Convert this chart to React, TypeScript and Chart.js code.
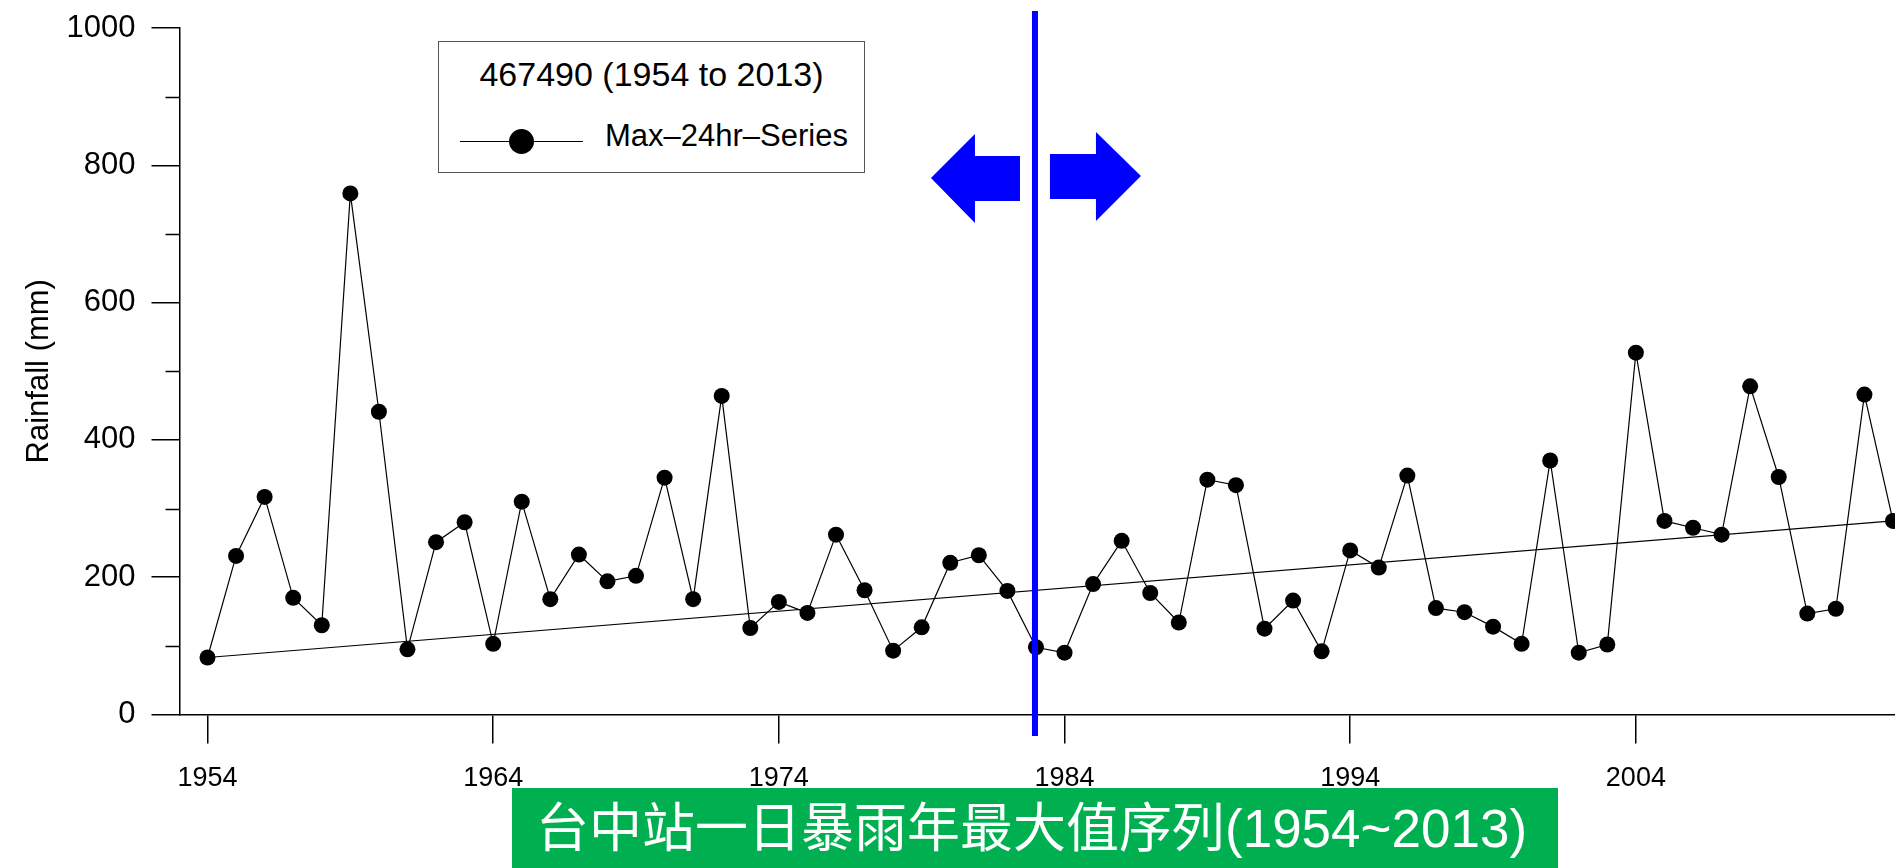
import React, { useEffect, useRef } from 'react';
import { Chart, registerables } from 'chart.js';

Chart.register(...registerables);

// ---- data ----
const YEARS = [
  1954, 1955, 1956, 1957, 1958, 1959, 1960, 1961, 1962, 1963,
  1964, 1965, 1966, 1967, 1968, 1969, 1970, 1971, 1972, 1973,
  1974, 1975, 1976, 1977, 1978, 1979, 1980, 1981, 1982, 1983,
  1984, 1985, 1986, 1987, 1988, 1989, 1990, 1991, 1992, 1993,
  1994, 1995, 1996, 1997, 1998, 1999, 2000, 2001, 2002, 2003,
  2004, 2005, 2006, 2007, 2008, 2009, 2010, 2011, 2012, 2013,
];
const MAX_24HR_RAINFALL = [
  83, 231, 317, 170, 130, 759, 441, 95, 251, 280,
  103, 310, 168, 233, 194, 202, 345, 168, 464, 126,
  164, 148, 262, 181, 93, 127, 221, 232, 180, 98,
  90, 190, 253, 177, 134, 342, 334, 125, 166, 92,
  239, 214, 348, 155, 149, 128, 103, 370, 90, 102,
  527, 282, 272, 262, 478, 346, 147, 154, 466, 282,
];
const X_TICK_YEARS = [1954, 1964, 1974, 1984, 1994, 2004];
const Y_MINOR_TICKS = [100, 300, 500, 700, 900];
const BREAK_YEAR = 1983;
const LEGEND_TITLE = '467490 (1954 to 2013)';
const SERIES_LABEL = 'Max–24hr–Series';
const Y_AXIS_TITLE = 'Rainfall (mm)';
const CHART_TITLE = '台中站一日暴雨年最大值序列(1954~2013)';

const FONT = '"Liberation Sans", Arial, sans-serif';

const overlayPlugin = {
  id: 'overlay',
  afterDatasetsDraw(chart: any) {
    const { ctx, chartArea, scales } = chart;
    ctx.save();
    // minor y ticks
    ctx.strokeStyle = '#000';
    ctx.lineWidth = 1.5;
    for (const v of Y_MINOR_TICKS) {
      const y = Math.round(scales.y.getPixelForValue(v)) + 0.5;
      ctx.beginPath();
      ctx.moveTo(chartArea.left - 14, y);
      ctx.lineTo(chartArea.left, y);
      ctx.stroke();
    }
    // blue break line
    const bx = scales.x.getPixelForValue(BREAK_YEAR) - 1;
    ctx.fillStyle = '#0000ff';
    ctx.fillRect(bx - 3, 11, 6, 725);
    // left arrow
    ctx.beginPath();
    ctx.moveTo(bx - 104, 178);
    ctx.lineTo(bx - 60, 134);
    ctx.lineTo(bx - 60, 156);
    ctx.lineTo(bx - 15, 156);
    ctx.lineTo(bx - 15, 201);
    ctx.lineTo(bx - 60, 201);
    ctx.lineTo(bx - 60, 223);
    ctx.closePath();
    ctx.fill();
    // right arrow
    ctx.beginPath();
    ctx.moveTo(bx + 15, 154);
    ctx.lineTo(bx + 61, 154);
    ctx.lineTo(bx + 61, 132);
    ctx.lineTo(bx + 106, 176);
    ctx.lineTo(bx + 61, 221);
    ctx.lineTo(bx + 61, 199);
    ctx.lineTo(bx + 15, 199);
    ctx.closePath();
    ctx.fill();
    ctx.restore();
  },
};

export default function App() {
  const canvasRef = useRef<HTMLCanvasElement | null>(null);

  useEffect(() => {
    const canvas = canvasRef.current;
    if (!canvas) return;
    const n = YEARS.length;
    const series = YEARS.map((yr, i) => ({ x: yr, y: MAX_24HR_RAINFALL[i] }));
    const trend = [
      { x: YEARS[0], y: MAX_24HR_RAINFALL[0] },
      { x: YEARS[n - 1], y: MAX_24HR_RAINFALL[n - 1] },
    ];
    const chart = new Chart(canvas, {
      type: 'line',
      data: {
        datasets: [
          {
            label: 'Trend',
            data: trend,
            borderColor: '#000',
            borderWidth: 1.2,
            pointRadius: 0,
            tension: 0,
          },
          {
            label: SERIES_LABEL,
            data: series,
            borderColor: '#000',
            borderWidth: 1.2,
            pointRadius: 8,
            pointHoverRadius: 8,
            pointBackgroundColor: '#000',
            pointBorderWidth: 0,
            tension: 0,
          },
        ],
      },
      options: {
        animation: false,
        responsive: false,
        devicePixelRatio: 1,
        layout: { padding: { top: 28, left: 0, right: 0, bottom: 0 }, autoPadding: false },
        plugins: {
          legend: { display: false },
          tooltip: { enabled: false },
          title: { display: false },
        },
        scales: {
          x: {
            type: 'linear',
            min: 1953.02,
            max: 2013.07,
            afterBuildTicks: (scale: any) => {
              scale.ticks = X_TICK_YEARS.map((v) => ({ value: v }));
            },
            afterFit: (scale: any) => {
              scale.height = 153.5;
              scale.paddingLeft = 0;
              scale.paddingRight = 0;
            },
            grid: {
              display: true,
              drawOnChartArea: false,
              drawTicks: true,
              tickLength: 29,
              color: '#000',
              lineWidth: 1.5,
            },
            border: { display: true, color: '#000', width: 1.5 },
            ticks: {
              color: '#000',
              padding: 19,
              maxRotation: 0,
              autoSkip: false,
              font: { family: FONT, size: 27 },
              callback: (v: any) => String(v),
            },
          },
          y: {
            type: 'linear',
            min: 0,
            max: 1000,
            afterFit: (scale: any) => {
              scale.width = 179.5;
              scale.paddingTop = 0;
              scale.paddingBottom = 0;
            },
            grid: {
              display: true,
              drawOnChartArea: false,
              drawTicks: true,
              tickLength: 28,
              color: '#000',
              lineWidth: 1.5,
            },
            border: { display: true, color: '#000', width: 1.5 },
            ticks: {
              stepSize: 200,
              color: '#000',
              padding: 16,
              font: { family: FONT, size: 31 },
              callback: (v: any) => String(v),
            },
            title: {
              display: true,
              text: Y_AXIS_TITLE,
              color: '#000',
              font: { family: FONT, size: 31 },
              padding: { top: 21, bottom: 0 },
            },
          },
        },
      },
      plugins: [overlayPlugin],
    });
    return () => chart.destroy();
  }, []);

  return (
    <div
      style={{
        position: 'fixed',
        left: 0,
        top: 0,
        width: 1895,
        height: 868,
        background: '#fff',
        overflow: 'hidden',
      }}
    >
      <canvas
        ref={canvasRef}
        width={1895}
        height={868}
        style={{ position: 'absolute', left: 0, top: 0, width: 1895, height: 868 }}
      />
      <div
        style={{
          position: 'absolute',
          left: 438,
          top: 41,
          width: 427,
          height: 132,
          boxSizing: 'border-box',
          border: '1.5px solid #555',
          background: '#fff',
          fontFamily: FONT,
          color: '#000',
        }}
      >
        <div
          style={{
            position: 'absolute',
            left: 0,
            right: 0,
            top: 12,
            textAlign: 'center',
            fontSize: 34,
            lineHeight: '40px',
            whiteSpace: 'nowrap',
          }}
        >
          {LEGEND_TITLE}
        </div>
        <div
          style={{
            position: 'absolute',
            left: 21,
            top: 99,
            width: 123,
            height: 0,
            borderTop: '1.5px solid #000',
          }}
        />
        <div
          style={{
            position: 'absolute',
            left: 70,
            top: 87,
            width: 25,
            height: 25,
            borderRadius: '50%',
            background: '#000',
          }}
        />
        <div
          style={{
            position: 'absolute',
            left: 166,
            top: 76,
            fontSize: 31,
            lineHeight: '36px',
            whiteSpace: 'nowrap',
          }}
        >
          {SERIES_LABEL}
        </div>
      </div>
      <div
        style={{
          position: 'absolute',
          left: 512,
          top: 788,
          width: 1046,
          height: 80,
          background: '#00B050',
          color: '#fff',
          fontFamily: '"Liberation Sans", "Noto Sans CJK TC", sans-serif',
          fontSize: 53,
          lineHeight: '82px',
          paddingLeft: 24,
          boxSizing: 'border-box',
          whiteSpace: 'nowrap',
          overflow: 'hidden',
        }}
      >
        {CHART_TITLE}
      </div>
    </div>
  );
}
